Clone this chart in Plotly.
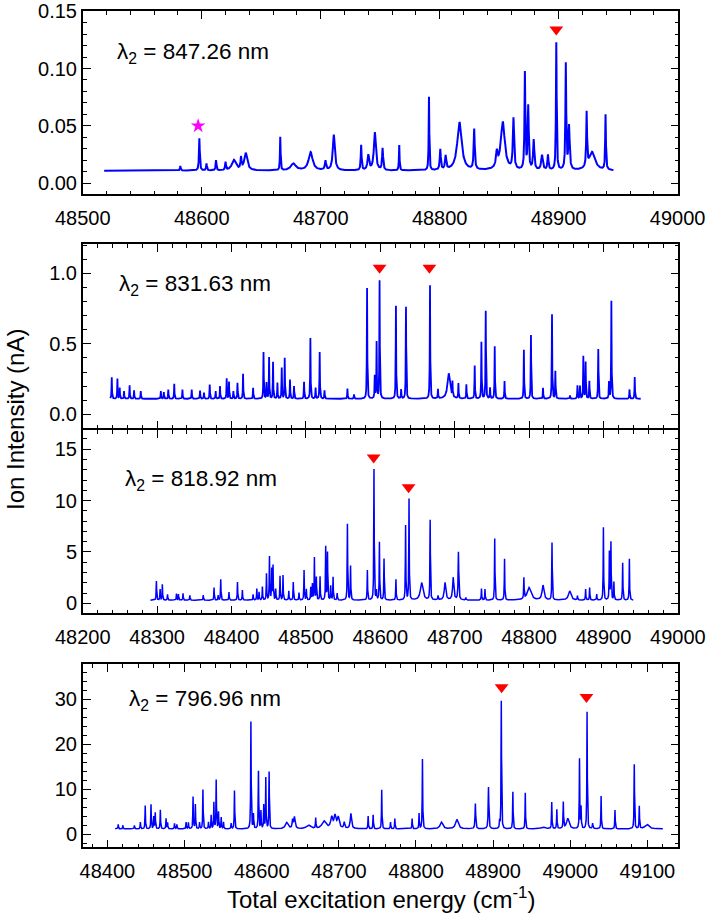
import numpy as np
import plotly.graph_objects as go

# ---------------- data ----------------
# Panel 1: lambda2 = 847.26 nm
p1_range = [48518, 48946]
p1_base = 0.011
p1_pos = [48582, 48598, 48604, 48612, 48620, 48627, 48633, 48637, 48666, 48677,
          48691.5, 48704, 48711, 48734, 48740, 48745.5, 48752, 48766, 48791, 48800.5,
          48805, 48816.6, 48829, 48848, 48853, 48862, 48871.6, 48874.4, 48879, 48886,
          48891, 48898, 48906, 48908.7, 48923.5, 48928, 48939.4]
p1_val = [0.015, 0.039, 0.017, 0.020, 0.018, 0.020, 0.021, 0.026, 0.040, 0.017,
          0.027, 0.019, 0.042, 0.033, 0.024, 0.044, 0.030, 0.033, 0.075, 0.029,
          0.023, 0.053, 0.046, 0.024, 0.053, 0.055, 0.095, 0.066, 0.037, 0.024,
          0.024, 0.122, 0.103, 0.049, 0.058, 0.027, 0.059]
p1_wid = [0.4, 0.4, 0.4, 0.4, 0.4, 2.0, 0.5, 1.5, 0.3, 2.5,
          2.0, 0.6, 1.0, 0.4, 0.8, 1.0, 0.5, 0.3, 0.3, 0.5,
          0.6, 2.2, 0.5, 0.8, 2.0, 0.6, 0.4, 0.5, 0.6, 0.8,
          0.5, 0.35, 0.4, 0.6, 0.4, 3.0, 0.35]
p1_tri_x = [48898]
p1_tri_y = [0.134]
p1_star_x = [48597]
p1_star_y = [0.050]

# Panel 2: lambda2 = 831.63 nm
p2_range = [48237, 48950]
p2_base = 0.11
p2_pos = [48239, 48246.6, 48249.7, 48255.5, 48263, 48269, 48278, 48305, 48309, 48315,
          48323, 48334, 48346.5, 48357.7, 48363, 48370.7, 48378.7, 48384.5, 48393.5, 48396.6,
          48402.5, 48408, 48415.5, 48429, 48443, 48447, 48450.5, 48455.8, 48461.7, 48467.5,
          48471.5, 48478.6, 48484, 48497.5, 48506, 48513, 48518.5, 48525, 48555.8, 48564.7,
          48582.2, 48592.5, 48595, 48599, 48621, 48628, 48634.5, 48666.8, 48677.5, 48692,
          48697, 48705, 48715.7, 48726.9, 48735.9, 48741.7, 48747.5, 48753.8, 48767, 48793,
          48802.5, 48818.7, 48830.8, 48835.3, 48855, 48865, 48868.4, 48872.9, 48876, 48881,
          48893, 48907.4, 48910.6, 48935, 48942]
p2_val = [0.263, 0.253, 0.188, 0.164, 0.206, 0.169, 0.164, 0.164, 0.157, 0.176,
          0.216, 0.176, 0.176, 0.169, 0.153, 0.211, 0.164, 0.200, 0.254, 0.230,
          0.164, 0.223, 0.287, 0.188, 0.441, 0.223, 0.404, 0.371, 0.223, 0.329,
          0.399, 0.246, 0.200, 0.230, 0.540, 0.188, 0.441, 0.169, 0.183, 0.140,
          0.895, 0.270, 0.510, 0.948, 0.770, 0.176, 0.763, 0.915, 0.176, 0.290,
          0.215, 0.218, 0.211, 0.345, 0.512, 0.732, 0.188, 0.481, 0.235, 0.458,
          0.563, 0.188, 0.709, 0.305, 0.134, 0.204, 0.200, 0.411, 0.369, 0.235,
          0.463, 0.228, 0.805, 0.176, 0.265]
p2_wid = [0.35] * 49 + [2.0] + [0.35] * 25
p2_tri_x = [48599, 48666]
p2_tri_y = [1.04, 1.04]

# Panel 3: lambda2 = 818.92 nm
p3_range = [48291, 48940]
p3_base = 0.3
p3_pos = [48299, 48304, 48307, 48314, 48326, 48328.6, 48334.8, 48344, 48362, 48376.5,
          48382, 48385.5, 48396.6, 48408, 48414.6, 48429, 48434, 48437, 48441.5, 48447,
          48451, 48454, 48455.8, 48459.4, 48465.2, 48469.2, 48477, 48483, 48490.7, 48497.5,
          48500.6, 48506.5, 48508.7, 48511.4, 48514, 48519, 48526.6, 48529, 48533.3, 48536.5,
          48542, 48555.8, 48560, 48582.6, 48591.5, 48594.8, 48598.8, 48605, 48621, 48634,
          48638.6, 48655.6, 48667, 48677.6, 48687, 48698, 48705, 48715, 48736, 48740.7,
          48753.8, 48767, 48793, 48799.9, 48818.7, 48830.8, 48854.6, 48865, 48876, 48881.4,
          48890.9, 48899.9, 48907.9, 48910, 48914, 48925.8, 48934.8]
p3_val = [2.16, 1.36, 1.84, 0.87, 0.93, 0.87, 0.97, 0.77, 0.80, 1.52,
          0.77, 2.32, 1.09, 2.06, 1.29, 0.87, 1.42, 1.09, 1.61, 2.87,
          4.52, 3.29, 3.61, 1.36, 2.64, 2.71, 1.19, 2.06, 1.03, 3.22,
          1.36, 1.52, 1.84, 4.42, 2.49, 2.58, 5.49, 4.90, 1.68, 2.55,
          0.97, 7.72, 3.61, 3.21, 13.05, 1.19, 5.93, 4.33, 2.32, 7.55,
          10.13, 2.00, 8.07, 0.71, 2.00, 2.49, 4.97, 0.55, 1.42, 1.36,
          6.29, 4.32, 2.32, 1.52, 1.74, 5.88, 1.19, 0.71, 1.36, 1.52,
          0.87, 7.39, 4.97, 5.88, 2.06, 3.94, 4.32]
p3_wid = ([0.35] * 51 + [2.0] + [0.35] * 2 + [1.2, 1.0, 0.5] + [0.35] * 6
          + [3.0, 1.5, 0.35, 2.0] + [0.35] * 10)
p3_tri_x = [48591, 48638]
p3_tri_y = [14.2, 11.3]

# Panel 4: lambda2 = 796.96 nm
p4_range = [48410, 49120]
p4_base = 1.2
p4_pos = [48414, 48420, 48435, 48442.7, 48449, 48456.5, 48460, 48462, 48468.6, 48476,
          48478, 48487, 48490, 48502, 48505, 48511, 48514, 48519.4, 48523.8, 48531,
          48534.5, 48538, 48541, 48544, 48547.5, 48550.5, 48560.4, 48564.7, 48586, 48589.3,
          48595.8, 48599, 48602.7, 48605.3, 48609.6, 48632.5, 48640, 48642.4, 48660.5, 48670,
          48680.7, 48690.7, 48695, 48699.2, 48707, 48715.6, 48738, 48744.5, 48755.6, 48767,
          48772.6, 48795, 48804, 48808.4, 48833, 48853, 48877, 48894, 48908.4, 48910.6,
          48925.6, 48941.7, 48964.5, 48976, 48982.6, 48991, 48996.8, 49012, 49014, 49021.8,
          49029, 49040, 49058, 49083, 49089.5, 49099.5]
p4_val = [2.2, 2.0, 2.0, 2.7, 6.4, 6.6, 3.9, 4.8, 5.4, 3.5,
          2.6, 2.4, 2.2, 2.7, 2.6, 8.3, 6.6, 2.6, 9.9, 2.7,
          4.2, 7.0, 12.0, 4.9, 3.7, 2.7, 2.4, 9.7, 25.0, 4.4,
          14.0, 5.1, 6.4, 12.5, 13.8, 2.6, 3.0, 3.8, 2.0, 3.5,
          2.9, 3.6, 3.9, 3.6, 2.6, 4.6, 4.0, 4.3, 9.9, 2.7,
          3.5, 3.5, 4.6, 16.7, 2.7, 3.3, 6.8, 10.5, 2.7, 29.6,
          9.4, 9.2, 1.6, 7.1, 5.5, 7.0, 3.5, 16.7, 5.9, 27.2,
          2.4, 8.5, 5.4, 15.5, 6.2, 2.2]
p4_wid = ([0.35] * 35 + [2.0, 0.6, 1.0, 3.0, 0.35, 3.0, 1.5, 1.5, 1.5, 0.8, 1.0]
          + [0.35] * 8 + [2.0, 2.0] + [0.5, 0.5, 0.35, 0.35, 0.35, 0.35, 3.0]
          + [0.35] * 3 + [2.0] + [0.35] * 3 + [0.5] + [0.35] * 4 + [3.0])
p4_tri_x = [48911, 49021]
p4_tri_y = [32.7, 30.5]

labels = ["λ<sub>2</sub> = 847.26 nm", "λ<sub>2</sub> = 831.63 nm",
          "λ<sub>2</sub> = 818.92 nm", "λ<sub>2</sub> = 796.96 nm"]


def spectrum(xr, base, pos, val, wid):
    x = np.union1d(np.round(np.arange(xr[0], xr[1] + 0.05, 0.1), 2), np.array(pos, float))
    y = np.full_like(x, base, dtype=float)
    for c, v, w in zip(pos, val, wid):
        y += (v - base) * w * w / ((x - c) ** 2 + w * w)
    return x, y


panels = [
    (p1_range, p1_base, p1_pos, p1_val, p1_wid, p1_tri_x, p1_tri_y, 2.0),
    (p2_range, p2_base, p2_pos, p2_val, p2_wid, p2_tri_x, p2_tri_y, 1.8),
    (p3_range, p3_base, p3_pos, p3_val, p3_wid, p3_tri_x, p3_tri_y, 1.5),
    (p4_range, p4_base, p4_pos, p4_val, p4_wid, p4_tri_x, p4_tri_y, 1.5),
]

fig = go.Figure()
W, H = 708, 918
for i, (xr, base, pos, val, wid, tx, ty, lw) in enumerate(panels):
    sfx = "" if i == 0 else str(i + 1)
    x, y = spectrum(xr, base, pos, val, wid)
    fig.add_trace(go.Scatter(x=x, y=y, mode="lines", line=dict(color="#0000ff", width=lw),
                             xaxis="x" + sfx, yaxis="y" + sfx, showlegend=False,
                             hoverinfo="skip"))
    fig.add_trace(go.Scatter(x=tx, y=ty, mode="markers",
                             marker=dict(symbol="triangle-down", color="#ff0000", size=12),
                             xaxis="x" + sfx, yaxis="y" + sfx, showlegend=False))
fig.add_trace(go.Scatter(x=p1_star_x, y=p1_star_y, mode="markers",
                         marker=dict(symbol="star", color="#ff00ff", size=11),
                         xaxis="x", yaxis="y", showlegend=False))


def px(v):
    return v / W


def py(v):
    return 1 - v / H


# frame geometry (reference pixels); axis lines are drawn just outside the
# plotting area, so panels 2 and 3 are spaced so that their shared line coincides
left, right = 82.75, 678.25
frames = [(10.75, 194.25), (243.75, 428.25), (429.75, 613.25), (663.75, 847.25)]
yranges = [[-0.0095, 0.1503], [-0.099, 1.211], [-0.97, 16.9], [-2.87, 37.9]]
xranges = [[48500, 49000.5], [48200, 49000.5], [48200, 49000.5], [48368, 49140]]
ydt = [(0.05, 0.01, ".2f"), (0.5, 0.1, ".1f"), (5, 1, "d"), (10, 2, "d")]
font_family = "Arial, Liberation Sans, sans-serif"
tickfont = dict(family=font_family, size=20, color="black")

for i in range(4):
    sfx = "" if i == 0 else str(i + 1)
    top, bot = frames[i]
    common = dict(showline=True, linecolor="black", linewidth=1.5, mirror="allticks",
                  ticks="inside", ticklen=8, tickwidth=1.3, tickcolor="black",
                  showgrid=False, zeroline=False, tickfont=tickfont, automargin=False,
                  ticklabeloverflow="allow")
    fig.layout["xaxis" + sfx] = dict(
        domain=[px(left), px(right)], range=xranges[i], anchor="y" + sfx,
        dtick=100, tick0=48000, tickformat="d",
        minor=dict(ticks="inside", ticklen=4, dtick=20, tickcolor="black", tickwidth=1.2),
        showticklabels=(i != 1), ticklabelstandoff=5, **common)
    fig.layout["yaxis" + sfx] = dict(
        domain=[py(bot), py(top)], range=yranges[i], anchor="x" + sfx,
        dtick=ydt[i][0], tick0=0, tickformat=ydt[i][2],
        minor=dict(ticks="inside", ticklen=4, dtick=ydt[i][1], tickcolor="black", tickwidth=1.2),
        ticklabelstandoff=0, **common)

ann_pos = [(115, 53), (117, 285), (123, 480), (127, 700)]
annotations = []
for i, (ax, ay) in enumerate(ann_pos):
    annotations.append(dict(text=labels[i], x=px(ax), y=py(ay), xref="paper", yref="paper",
                            xanchor="left", yanchor="middle", showarrow=False,
                            font=dict(family=font_family, size=22.5, color="black")))
annotations.append(dict(text="Ion Intensity (nA)", x=px(16), y=py(420), xref="paper",
                        yref="paper", textangle=-90, showarrow=False, xanchor="center",
                        yanchor="middle", font=dict(family=font_family, size=24, color="black")))
annotations.append(dict(text="Total excitation energy (cm<sup>-1</sup>)", x=px(380.5),
                        y=py(898), xref="paper", yref="paper", showarrow=False,
                        xanchor="center", yanchor="middle",
                        font=dict(family=font_family, size=24, color="black")))

fig.update_layout(width=W, height=H, margin=dict(l=0, r=0, t=0, b=0),
                  paper_bgcolor="white", plot_bgcolor="white", annotations=annotations)

fig.write_html("out.html", config={"displayModeBar": False},
               post_script="document.body.style.margin='0px';")
